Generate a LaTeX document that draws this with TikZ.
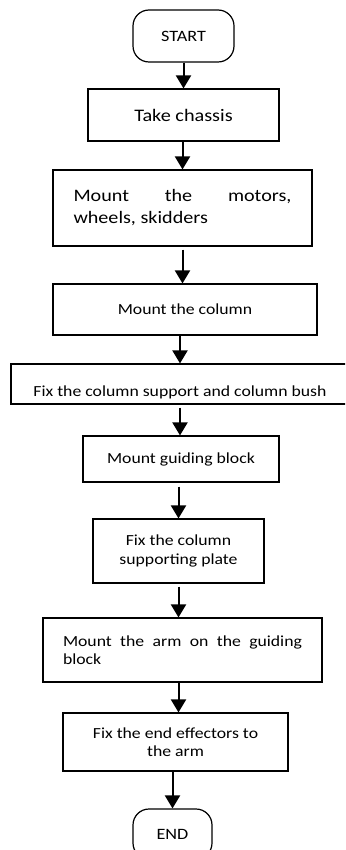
\documentclass[tikz,border=0pt]{standalone}
\usepackage{fontspec}
\setmainfont{Carlito}[FakeStretch=1.15]
\usepackage{tikz}
\usetikzlibrary{arrows.meta, positioning}

\begin{document}
\begin{tikzpicture}[>={Triangle[width=15pt,length=13pt]}, x=1pt, y=-1pt,
    stepbox/.style={draw, line width=1.2pt, inner sep=0pt, align=center},
    termbox/.style={stepbox, rounded corners=16pt},
    flow/.style={->, line width=2pt},
    txt/.style={font=\fontsize{15.4}{18.5}\selectfont}]

  % page
  \useasboundingbox (0,0) rectangle (345,850);
  \clip (0,0) rectangle (345,850);

  % \draw start and first steps
  \node[termbox, font=\fontsize{15.8}{18}\selectfont, minimum width=101pt, minimum height=52pt] (start) at (183.5,36) {START};
  \node[stepbox, font=\fontsize{17.6}{21}\selectfont, minimum width=191pt, minimum height=52pt] (chassis) at (183.5,115) {Take chassis};
  \node[stepbox, font=\fontsize{17.5}{22}\selectfont, text width=218pt, align=justify, inner xsep=20.5pt, minimum height=76pt] (motors) at (182.5,208) {Mount the motors, wheels, skidders};
  \node[stepbox, txt, minimum width=264pt, minimum height=51pt] (column) at (185,309.5) {Mount the column};
  \node[stepbox, txt, minimum width=338pt, inner ysep=5pt, text height=27pt, text depth=3pt] (support) at (180,384) {Fix the column support and column bush};

  % \draw remaining steps
  \node[stepbox, txt, minimum width=196pt, minimum height=46pt] (guiding) at (181,459) {Mount guiding block};
  \node[stepbox, txt, minimum width=171pt, minimum height=64pt] (plate) at (178.5,551) {Fix the column\\supporting plate};
  \node[stepbox, txt, text width=239pt, align=justify, inner xsep=20pt, minimum height=64pt] (arm) at (182.5,650) {Mount the arm on the guiding block};
  \node[stepbox, txt, minimum width=225pt, minimum height=58pt] (effector) at (175.5,742) {Fix the end effectors to\\the arm};
  \node[termbox, font=\fontsize{15.8}{18}\selectfont, minimum width=79pt, minimum height=50pt] (finish) at (172.5,834) {END};

  % \draw arrows
  \draw[flow] (start) -- (chassis);
  \draw[flow] (chassis.south -| motors.north) -- (motors.north);
  \draw[flow, shorten <=3pt] (motors.south) -- (motors.south |- column.north);
  \draw[flow] (column.south -| support.north) -- (support.north);
  \draw[flow, shorten <=3pt] (support.south) -- (support.south |- guiding.north);
  \draw[flow, shorten <=4pt] (guiding.south -| plate.north) -- (plate.north);
  \draw[flow, shorten <=3pt] (plate.south) -- (plate.south |- arm.north);
  \draw[flow] (arm.south -| plate.south) -- (effector.north -| plate.south);
  \draw[flow] (effector.south -| finish.north) -- (finish.north);

\end{tikzpicture}
\end{document}
